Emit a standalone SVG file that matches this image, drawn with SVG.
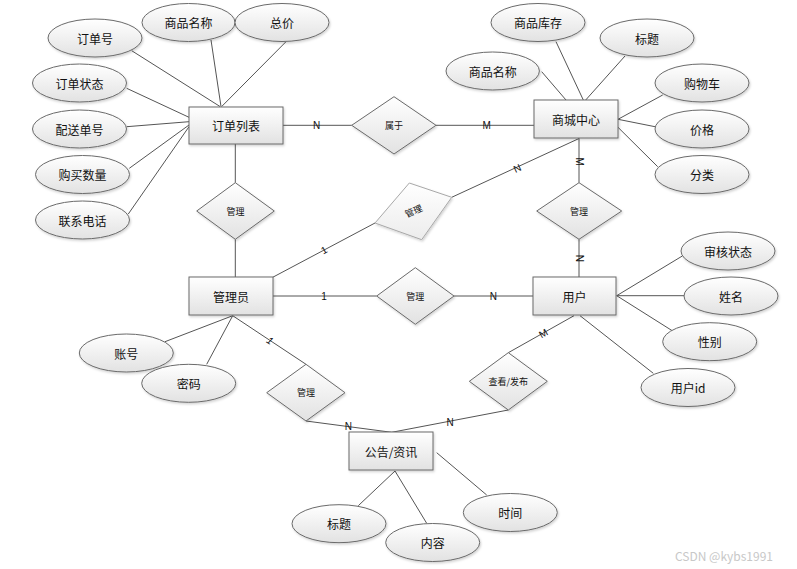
<svg xmlns="http://www.w3.org/2000/svg" width="797" height="569" viewBox="0 0 797 569">
<defs>
<linearGradient id="g" x1="0" y1="0" x2="0" y2="1">
<stop offset="0" stop-color="#ffffff"/>
<stop offset="1" stop-color="#e2e2e2"/>
</linearGradient>
<linearGradient id="gl" x1="0" y1="0" x2="0" y2="1">
<stop offset="0" stop-color="#ffffff"/>
<stop offset="1" stop-color="#ececec"/>
</linearGradient>
<filter id="sh" x="-10%" y="-10%" width="130%" height="140%">
<feDropShadow dx="1" dy="1.5" stdDeviation="1" flood-color="#000" flood-opacity="0.18"/>
</filter>
</defs>
<style>
.e{fill:url(#g);stroke:#6a6a6a;stroke-width:1;filter:url(#sh)}
.a{fill:url(#g);stroke:#6a6a6a;stroke-width:1;filter:url(#sh)}
.r{fill:url(#g);stroke:#6a6a6a;stroke-width:1;filter:url(#sh)}
.c line,.c polyline{stroke:#555;stroke-width:1;fill:none}
text{font-family:"Noto Sans CJK SC","Liberation Sans",sans-serif;fill:#111;text-anchor:middle;dominant-baseline:central}
.t{font-size:12px}
.d{font-size:9px}
.l{font-size:10px;font-family:"Liberation Sans","Noto Sans CJK SC",sans-serif}
</style>
<rect width="797" height="569" fill="#ffffff"/>
<g class="c" id="connectors">
<line x1="131.7" y1="50.7" x2="220" y2="106.5"/>
<line x1="211" y1="40" x2="221" y2="106.5"/>
<line x1="286" y1="41.7" x2="221.7" y2="106.5"/>
<line x1="126.7" y1="88.3" x2="189" y2="117.3"/>
<line x1="126.7" y1="126.7" x2="189" y2="121.7"/>
<line x1="129.3" y1="168.3" x2="189" y2="125"/>
<line x1="128.3" y1="214" x2="189" y2="126.7"/>
<line x1="235.3" y1="144" x2="235.3" y2="182.7"/>
<line x1="235.3" y1="239.3" x2="235.3" y2="277"/>
<line x1="283" y1="125.3" x2="351.7" y2="125.3"/>
<line x1="436" y1="125.3" x2="534" y2="125.3"/>
<line x1="541.7" y1="71.7" x2="566" y2="100"/>
<line x1="556" y1="41.7" x2="583.3" y2="100"/>
<line x1="625" y1="56" x2="585.7" y2="100"/>
<line x1="662.7" y1="95" x2="618" y2="119.3"/>
<line x1="655" y1="126.7" x2="618" y2="119.3"/>
<line x1="657.7" y1="166.7" x2="618" y2="127.3"/>
<line x1="579" y1="138" x2="579" y2="182.7"/>
<line x1="579" y1="239.3" x2="579" y2="277"/>
<line x1="533" y1="296" x2="454" y2="296"/>
<line x1="376.7" y1="296" x2="273" y2="296"/>
<line x1="272.7" y1="277.3" x2="375" y2="223"/>
<line x1="451.7" y1="197.3" x2="579" y2="138.5"/>
<line x1="232.7" y1="315.7" x2="165" y2="341.7"/>
<line x1="232.7" y1="315.7" x2="206.7" y2="364.3"/>
<line x1="232.7" y1="315.7" x2="306" y2="364.3"/>
<polyline points="306,421 391.7,432.3 508.3,410"/>
<line x1="574" y1="315.7" x2="508.3" y2="352.7"/>
<line x1="616.7" y1="295.7" x2="682.3" y2="256"/>
<line x1="616.7" y1="295.7" x2="684.3" y2="295.7"/>
<line x1="616.7" y1="295.7" x2="672.7" y2="331"/>
<line x1="580" y1="315.7" x2="653.3" y2="373.3"/>
<line x1="395" y1="471" x2="358.3" y2="505.7"/>
<line x1="395" y1="471" x2="426.7" y2="523.3"/>
<line x1="436.7" y1="452.7" x2="486.7" y2="495"/>
<text class="l" x="316.7" y="125.3">N</text>
<text class="l" x="486.7" y="125.3">M</text>
<text class="l" x="579.3" y="161.7" transform="rotate(90 579.3 161.7)">M</text>
<text class="l" x="579.3" y="258.3" transform="rotate(90 579.3 258.3)">N</text>
<text class="l" x="493.3" y="296">N</text>
<text class="l" x="324" y="296">1</text>
<text class="l" x="324" y="250" transform="rotate(-28 324 250)">1</text>
<text class="l" x="517.3" y="168.3" transform="rotate(-25 517.3 168.3)">N</text>
<text class="l" x="270" y="340.7" transform="rotate(33 270 340.7)" font-style="italic" font-size="9">1</text>
<text class="l" x="348.3" y="426.7" font-size="9">N</text>
<text class="l" x="450" y="422.3" font-size="9">N</text>
<text class="l" x="543.3" y="333.3" transform="rotate(-30 543.3 333.3)" font-size="9">M</text>
</g>
<g id="n-order"><rect class="r" x="189" y="107" width="94" height="37"/><text class="t" x="236" y="125.5">订单列表</text></g>
<g id="n-mall"><rect class="r" x="534" y="100" width="84" height="38"/><text class="t" x="576" y="119">商城中心</text></g>
<g id="n-admin"><rect class="r" x="189" y="277" width="84" height="38"/><text class="t" x="231" y="296">管理员</text></g>
<g id="n-user"><rect class="r" x="533" y="277" width="83" height="38"/><text class="t" x="574.5" y="296">用户</text></g>
<g id="n-notice"><rect class="r" x="349" y="432" width="84" height="38"/><text class="t" x="391" y="451">公告/资讯</text></g>
<g id="a-ordno"><ellipse class="e" cx="95" cy="38" rx="47" ry="19"/><text class="t" x="95" y="38">订单号</text></g>
<g id="a-name1"><ellipse class="e" cx="188.5" cy="22.5" rx="46.5" ry="19"/><text class="t" x="188.5" y="22.5">商品名称</text></g>
<g id="a-total"><ellipse class="e" cx="282" cy="22.5" rx="47" ry="19"/><text class="t" x="282" y="22.5">总价</text></g>
<g id="a-status"><ellipse class="e" cx="79.5" cy="83" rx="47" ry="19"/><text class="t" x="79.5" y="83">订单状态</text></g>
<g id="a-ship"><ellipse class="e" cx="79.5" cy="129" rx="47" ry="19"/><text class="t" x="79.5" y="129">配送单号</text></g>
<g id="a-qty"><ellipse class="e" cx="82.5" cy="174.5" rx="47" ry="19"/><text class="t" x="82.5" y="174.5">购买数量</text></g>
<g id="a-phone"><ellipse class="e" cx="82.5" cy="220" rx="47" ry="19"/><text class="t" x="82.5" y="220">联系电话</text></g>
<g id="a-stock"><ellipse class="e" cx="538" cy="22.5" rx="47" ry="19"/><text class="t" x="538" y="22.5">商品库存</text></g>
<g id="a-name2"><ellipse class="e" cx="492.7" cy="71" rx="46.7" ry="19"/><text class="t" x="492.7" y="71">商品名称</text></g>
<g id="a-title1"><ellipse class="e" cx="647" cy="38" rx="47" ry="19"/><text class="t" x="647" y="38">标题</text></g>
<g id="a-cart"><ellipse class="e" cx="702" cy="83" rx="47" ry="19"/><text class="t" x="702" y="83">购物车</text></g>
<g id="a-price"><ellipse class="e" cx="702" cy="129" rx="47" ry="19"/><text class="t" x="702" y="129">价格</text></g>
<g id="a-cat"><ellipse class="e" cx="702" cy="174.5" rx="47" ry="19"/><text class="t" x="702" y="174.5">分类</text></g>
<g id="a-audit"><ellipse class="e" cx="728" cy="251" rx="47" ry="19"/><text class="t" x="728" y="251">审核状态</text></g>
<g id="a-uname"><ellipse class="e" cx="731" cy="296" rx="47" ry="19"/><text class="t" x="731" y="296">姓名</text></g>
<g id="a-sex"><ellipse class="e" cx="709.7" cy="341.7" rx="47" ry="19"/><text class="t" x="709.7" y="341.7">性别</text></g>
<g id="a-uid"><ellipse class="e" cx="688" cy="387.5" rx="47" ry="19"/><text class="t" x="688" y="387.5">用户id</text></g>
<g id="a-acct"><ellipse class="e" cx="126.3" cy="353" rx="47" ry="19"/><text class="t" x="126.3" y="353">账号</text></g>
<g id="a-pwd"><ellipse class="e" cx="188.7" cy="383.3" rx="47" ry="19"/><text class="t" x="188.7" y="383.3">密码</text></g>
<g id="a-title2"><ellipse class="e" cx="339" cy="523.7" rx="47" ry="19"/><text class="t" x="339" y="523.7">标题</text></g>
<g id="a-content"><ellipse class="e" cx="432.7" cy="542.5" rx="47" ry="19"/><text class="t" x="432.7" y="542.5">内容</text></g>
<g id="a-time"><ellipse class="e" cx="510.3" cy="512.5" rx="47" ry="19"/><text class="t" x="510.3" y="512.5">时间</text></g>
<g id="r-manage1"><polygon class="a" points="235.3,182.7 274.3,211 235.3,239.3 196.7,211"/><text class="d" x="235.5" y="211">管理</text></g>
<g id="r-belong"><polygon class="a" points="394,96.7 436,125.3 394,154 351.7,125.3"/><text class="d" x="394" y="125.3">属于</text></g>
<g id="r-manage2"><polygon class="a" points="579,182.7 621.7,211 579,239.3 536.7,211"/><text class="d" x="579" y="211">管理</text></g>
<g id="r-manage3"><polygon points="409.3,183 451.7,197.3 421.7,239.7 375,223" fill="url(#gl)" stroke="#a8a8a8" stroke-width="1" filter="url(#sh)"/><text class="d" x="413.5" y="211" fill="#777" transform="rotate(-24 413.5 211)">管理</text></g>
<g id="r-manage4"><polygon class="a" points="415.3,267.7 454,296 415.3,324.3 376.7,296"/><text class="d" x="415.3" y="296">管理</text></g>
<g id="r-manage5"><polygon class="a" points="306,364.3 345,392.7 306,421 266.7,392.7"/><text class="d" x="306" y="392.7">管理</text></g>
<g id="r-view"><polygon class="a" points="508.3,352.7 547.3,381.3 508.3,410 469.3,381.3"/><text class="d" x="508.3" y="381.3">查看/发布</text></g>
<text x="724" y="555" font-family="Liberation Sans, sans-serif" font-size="12" fill="#c8c8c8" style="fill:#c8c8c8">CSDN @kybs1991</text>
</svg>
